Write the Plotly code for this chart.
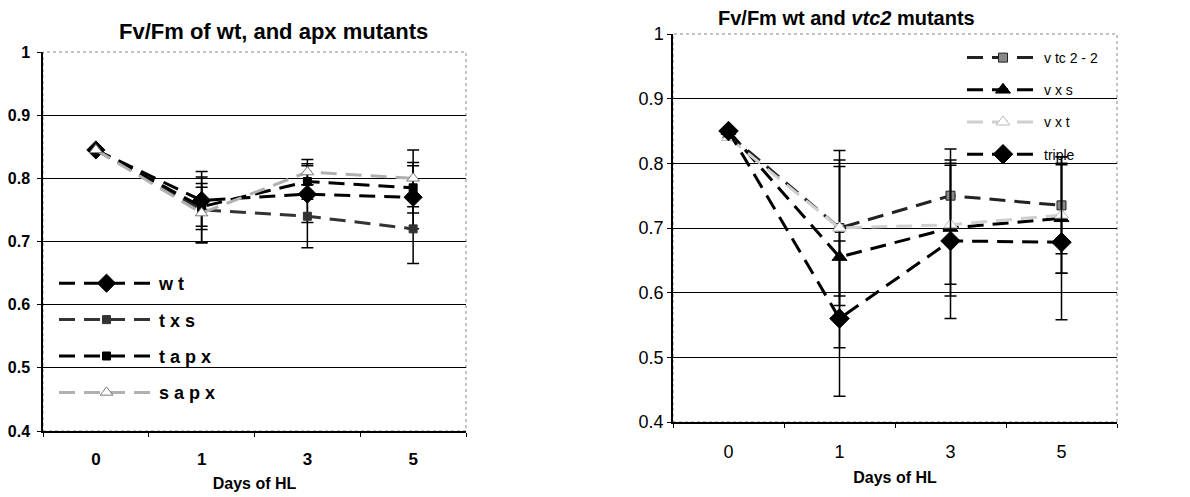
import plotly.graph_objects as go

days = ["0", "1", "3", "5"]

# Left chart: apx mutants
wt = [0.845, 0.765, 0.775, 0.770]
wt_err = [0.0, 0.046, 0.045, 0.050]
txs = [0.845, 0.750, 0.740, 0.720]
txs_err = [0.0, 0.052, 0.050, 0.055]
tapx = [0.845, 0.755, 0.795, 0.785]
tapx_err = [0.0, 0.031, 0.028, 0.040]
sapx = [0.845, 0.745, 0.810, 0.800]
sapx_err = [0.0, 0.047, 0.020, 0.045]

# Right chart: vtc2 mutants
vtc22 = [0.845, 0.700, 0.750, 0.735]
vtc22_err = [0.0, 0.120, 0.072, 0.075]
vxs = [0.850, 0.655, 0.700, 0.715]
vxs_err = [0.0, 0.140, 0.105, 0.085]
vxt = [0.840, 0.700, 0.705, 0.720]
vxt_err = [0.0, 0.105, 0.092, 0.090]
triple = [0.850, 0.560, 0.680, 0.678]
triple_err = [0.0, 0.120, 0.120, 0.120]

W, H = 1190, 497
OFF = 8  # page body margin offset


def px(x):
    return (x - OFF) / W


def py(y):
    return 1 - (y - OFF) / H


DASH = "16px,9px"
fig = go.Figure()


def add(name, y, err, color, symbol, size, xa, ya, legend, mline=None, mfill=None):
    fig.add_trace(go.Scatter(
        x=days, y=y, name=name, mode="lines+markers",
        line=dict(color=color, width=3, dash=DASH),
        marker=dict(symbol=symbol, size=size, color=mfill or color,
                    line=dict(color=mline or color, width=1)),
        error_y=dict(type="data", array=err, visible=True, color="black",
                     thickness=1.5, width=6),
        xaxis=xa, yaxis=ya, legend=legend, legendgroup=name,
    ))


add("w t", wt, wt_err, "black", "diamond", 14, "x", "y", "legend")
add("t x s", txs, txs_err, "#333333", "square", 8, "x", "y", "legend")
add("t a p x", tapx, tapx_err, "black", "square", 8, "x", "y", "legend")
add("s a p x", sapx, sapx_err, "#b0b0b0", "triangle-up", 11, "x", "y", "legend",
    mline="#777777", mfill="white")

add("v tc 2 - 2", vtc22, vtc22_err, "#222222", "square", 9, "x2", "y2", "legend2",
    mline="#222222", mfill="#888888")
add("v x s", vxs, vxs_err, "black", "triangle-up", 13, "x2", "y2", "legend2")
add("v x t", vxt, vxt_err, "#d0d0d0", "triangle-up", 12, "x2", "y2", "legend2",
    mline="#bbbbbb", mfill="white")
add("triple", triple, triple_err, "black", "diamond", 15, "x2", "y2", "legend2")

axis_common = dict(showline=True, linecolor="black", linewidth=1.5, mirror=False,
                   ticks="outside", ticklen=4, tickcolor="black", automargin=False)

fig.update_layout(
    width=W, height=H,
    margin=dict(l=0, r=0, t=0, b=0, autoexpand=False),
    paper_bgcolor="white", plot_bgcolor="white",
    font=dict(family="Liberation Sans, Arial", color="black"),
    xaxis=dict(domain=[px(43), px(466)], anchor="y", type="category",
               range=[-0.5, 3.5], tickson="boundaries", ticklabelstandoff=12,
               tickfont=dict(size=17, family="Liberation Sans", weight="bold"),
               title=dict(text="<b>Days of HL</b>", font=dict(size=16), standoff=10),
               **axis_common),
    yaxis=dict(domain=[py(431), py(52)], anchor="x", range=[0.4, 1.0],
               dtick=0.1, tickformat=".1~f", showgrid=True, gridcolor="black",
               gridwidth=1, zeroline=False, ticklabelstandoff=4,
               tickfont=dict(size=16, family="Liberation Sans", weight="bold"),
               **axis_common),
    xaxis2=dict(domain=[px(673), px(1117)], anchor="y2", type="category",
                range=[-0.5, 3.5], tickson="boundaries", ticklabelstandoff=13,
                tickfont=dict(size=18),
                title=dict(text="<b>Days of HL</b>", font=dict(size=16), standoff=10),
                **axis_common),
    yaxis2=dict(domain=[py(422), py(34)], anchor="x2", range=[0.4, 1.0],
                dtick=0.1, tickformat=".1~f", showgrid=True, gridcolor="black",
                gridwidth=1, zeroline=False,
                tickfont=dict(size=18),
                **axis_common),
    legend=dict(x=px(54), y=py(265), xanchor="left", yanchor="top",
                bgcolor="rgba(0,0,0,0)", tracegroupgap=10, itemwidth=95,
                font=dict(size=18, family="Liberation Sans", weight="bold")),
    legend2=dict(x=px(962), y=py(42), xanchor="left", yanchor="top",
                 bgcolor="rgba(0,0,0,0)", tracegroupgap=11, itemwidth=72,
                 font=dict(size=14)),
    showlegend=True,
)

# Dotted gray frame on top/right of plot areas
for x0, x1, y0, y1 in [(43, 466, 52, 431), (673, 1117, 34, 422)]:
    fig.add_shape(type="rect", xref="paper", yref="paper",
                  x0=px(x0), x1=px(x1), y0=py(y1), y1=py(y0),
                  line=dict(color="#888888", width=1, dash="dot"), layer="below")

fig.add_annotation(text="<b>Fv/Fm of wt, and apx mutants</b>", xref="paper", yref="paper",
                   x=px(273), y=py(32), xanchor="center", yanchor="middle",
                   showarrow=False, font=dict(size=22, family="Liberation Sans"))
fig.add_annotation(text="<b>Fv/Fm wt and <i>vtc2</i> mutants</b>", xref="paper", yref="paper",
                   x=px(846), y=py(18), xanchor="center", yanchor="middle",
                   showarrow=False, font=dict(size=20, family="Liberation Sans"))

fig.write_html("out.html")
